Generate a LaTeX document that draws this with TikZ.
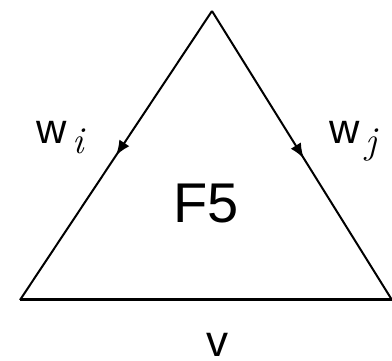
\documentclass[tikz,border=0pt]{standalone}
\usepackage{fontspec}
\setmainfont{Liberation Sans}
\newfontfamily\lmr{Latin Modern Roman}
\newcommand{\mysub}[2]{\hspace{#2}\raisebox{-9.5pt}{\fontsize{38}{44}\selectfont\lmr\itshape #1}}
\usetikzlibrary{decorations.markings,arrows.meta}
\begin{document}
\begin{tikzpicture}[x=1pt,y=-1pt,
  edge/.style={line width=2pt},
  base/.style={line width=3pt},
  midarrow/.style={postaction={decorate},decoration={markings,
     mark=at position #1 with {\arrow{Latex[length=15pt,width=12pt]}}}},
  lbl/.style={anchor=base west,inner sep=0pt,font=\fontsize{42}{50}\selectfont}]
\useasboundingbox (0,0) rectangle (392,361);
\coordinate (top) at (212,11);
\coordinate (bl) at (20,300);
\coordinate (br) at (392,300);
\draw[edge,midarrow=0.5] (top) -- (bl);
\draw[edge,midarrow=0.51] (top) -- (br);
\draw[base] (bl) -- (br);
\node[lbl] (wi) at (36.5,144) {w\mysub{i}{5pt}};
\node[lbl] (wj) at (329.5,144) {w\mysub{j}{5pt}};
\node[lbl,font=\fontsize{56}{64}\selectfont] (f5) at (173,223) {F5};
\node[lbl,font=\fontsize{44}{50}\selectfont] (v) at (206.5,357) {v};
\end{tikzpicture}
\end{document}
